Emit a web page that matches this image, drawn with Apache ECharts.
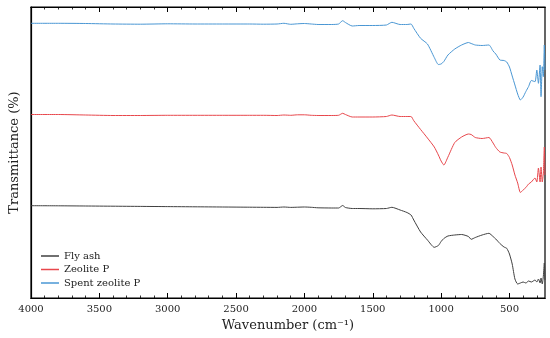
<!DOCTYPE html>
<html>
<head>
<meta charset="utf-8">
<script src="https://cdn.jsdelivr.net/npm/echarts@6/dist/echarts.min.js"></script>
<style>html,body{margin:0;padding:0;background:#fff}#c{width:550px;height:338px}</style>
</head>
<body>
<div id="c"></div>
<script>
// Wavenumbers (cm-1) at which the spectra were read
var wavenumbers = [4000,3800,3600,3400,3200,3000,2800,2600,2400,2300,2200,2150,2100,2050,2000,1950,1900,1800,1750,1720,1700,1650,1600,1500,1400,1360,1300,1250,1220,1200,1150,1100,1050,1020,1000,980,950,900,850,800,780,750,700,650,620,600,570,540,520,500,480,460,440,420,400,380,360,340,313,300,288,276,269,260,252,245,240];
// Transmittance (arbitrary offset units)
var flyAsh = [92.3,92.2,92,91.8,91.6,91.4,91.2,91,90.8,90.7,90.6,91,90.6,90.8,91,90.7,90.2,90,90,92.5,90.5,89.5,89.5,89.2,89.5,90.7,88,85.5,83,78,66,58,50.7,52.5,56.5,59.5,62,63,63.5,61.5,58.7,60.5,63,64.7,61.5,59,54.5,51,49.7,44,34,19,14,15,16,15,17,16,18,16,19,15,20,14,22,35,18];
var zeoliteP = [183.5,183.5,183,182.5,182.5,182.7,182.7,182.7,182.7,182.7,182.5,183,182.7,183.2,183.2,182.7,182.5,182.5,182.7,184.7,183.5,181,181,181,181.5,183,181.5,181.5,181.5,177.3,168.5,160,151,143,137,133,141,155.5,161,164,163.5,160.5,159.5,160.5,155,150.5,146,145,144.5,140.5,133,123,115,105.5,108,110.5,114,116,120,116,130,116,131,116,125,151,123];
var spentZeoliteP = [274.7,274.7,274.5,274,273.8,274.2,274,274,274,273.8,274,274.7,273.7,274.2,274.5,274,273.5,273.5,274,277.3,275.5,272,272.5,272.5,273,275.7,273.5,273.5,274,269.7,259.7,254,240.5,233.5,234,236.5,243,249,253,255.5,254.5,253,252.5,253,247,244,238,237.5,236,231,222,213,204,198,201,206.5,211.5,217.5,216.3,228,214.7,233,201.3,231.3,221.3,253,228];
var seriesNames = ['Fly ash','Zeolite P','Spent zeolite P'];
var majorTicks = [4000,3500,3000,2500,2000,1500,1000,500];
var minorTicks = [];
for (var t = 3900; t >= 300; t -= 100) if (t % 500 !== 0) minorTicks.push(t);

function pairs(vals){ return wavenumbers.map(function(w,i){ return [w, vals[i]]; }); }

var FONT = 'DejaVu Serif';
var chart = echarts.init(document.getElementById('c'), null, {renderer:'canvas'});

function xAx(pos, ticks, len, width, withLabels){
  var a = {
    type:'value', min:240, max:4000, inverse:true, position:pos,
    splitLine:{show:false},
    axisLine:{show:true, onZero:false, lineStyle:{color:'#000', width:1.2}},
    axisTick:{show:true, inside:true, length:len, lineStyle:{color:'#000', width:width}, customValues:ticks},
    axisLabel:{show:false, customValues:ticks}
  };
  if (withLabels) {
    a.name = 'Wavenumber (cm⁻¹)';
    a.nameLocation = 'middle';
    a.nameGap = 13;
    a.nameTextStyle = {fontFamily:FONT, fontSize:13, color:'#222'};
    a.axisLabel = {show:true, margin:6, fontFamily:FONT, fontSize:10, color:'#222', customValues:ticks,
      formatter:function(v){ return String(v); }};
  }
  return a;
}

chart.setOption({
  animation:false,
  backgroundColor:'#fff',
  grid:{left:29, right:5, top:7, bottom:40, show:true, borderColor:'#000', borderWidth:1.2, containLabel:false},
  legend:{
    orient:'vertical', left:36, top:246, icon:'rect', itemWidth:18, itemHeight:1.5, itemGap:3.5,
    textStyle:{fontFamily:FONT, fontSize:10, color:'#222'},
    data:seriesNames
  },
  xAxis:[
    xAx('bottom', majorTicks, 5, 1, true),
    xAx('bottom', minorTicks, 2.5, 0.8, false),
    xAx('top', majorTicks, 5, 1, false),
    xAx('top', minorTicks, 2.5, 0.8, false)
  ],
  yAxis:{
    type:'value', min:0, max:291,
    name:'Transmittance (%)', nameLocation:'middle', nameGap:10,
    nameTextStyle:{fontFamily:FONT, fontSize:13, color:'#222'},
    axisLine:{show:true, lineStyle:{color:'#000', width:1.2}}, axisTick:{show:false}, axisLabel:{show:false}, splitLine:{show:false}
  },
  series:[
    {name:seriesNames[0], type:'line', data:pairs(flyAsh), showSymbol:false, smooth:0.2, lineStyle:{width:1, color:'#404040'}, itemStyle:{color:'#404040'}},
    {name:seriesNames[1], type:'line', data:pairs(zeoliteP), showSymbol:false, smooth:0.2, lineStyle:{width:1, color:'#e8474c'}, itemStyle:{color:'#e8474c'}},
    {name:seriesNames[2], type:'line', data:pairs(spentZeoliteP), showSymbol:false, smooth:0.2, lineStyle:{width:1, color:'#4a97d4'}, itemStyle:{color:'#4a97d4'}}
  ]
});
</script>
</body>
</html>
